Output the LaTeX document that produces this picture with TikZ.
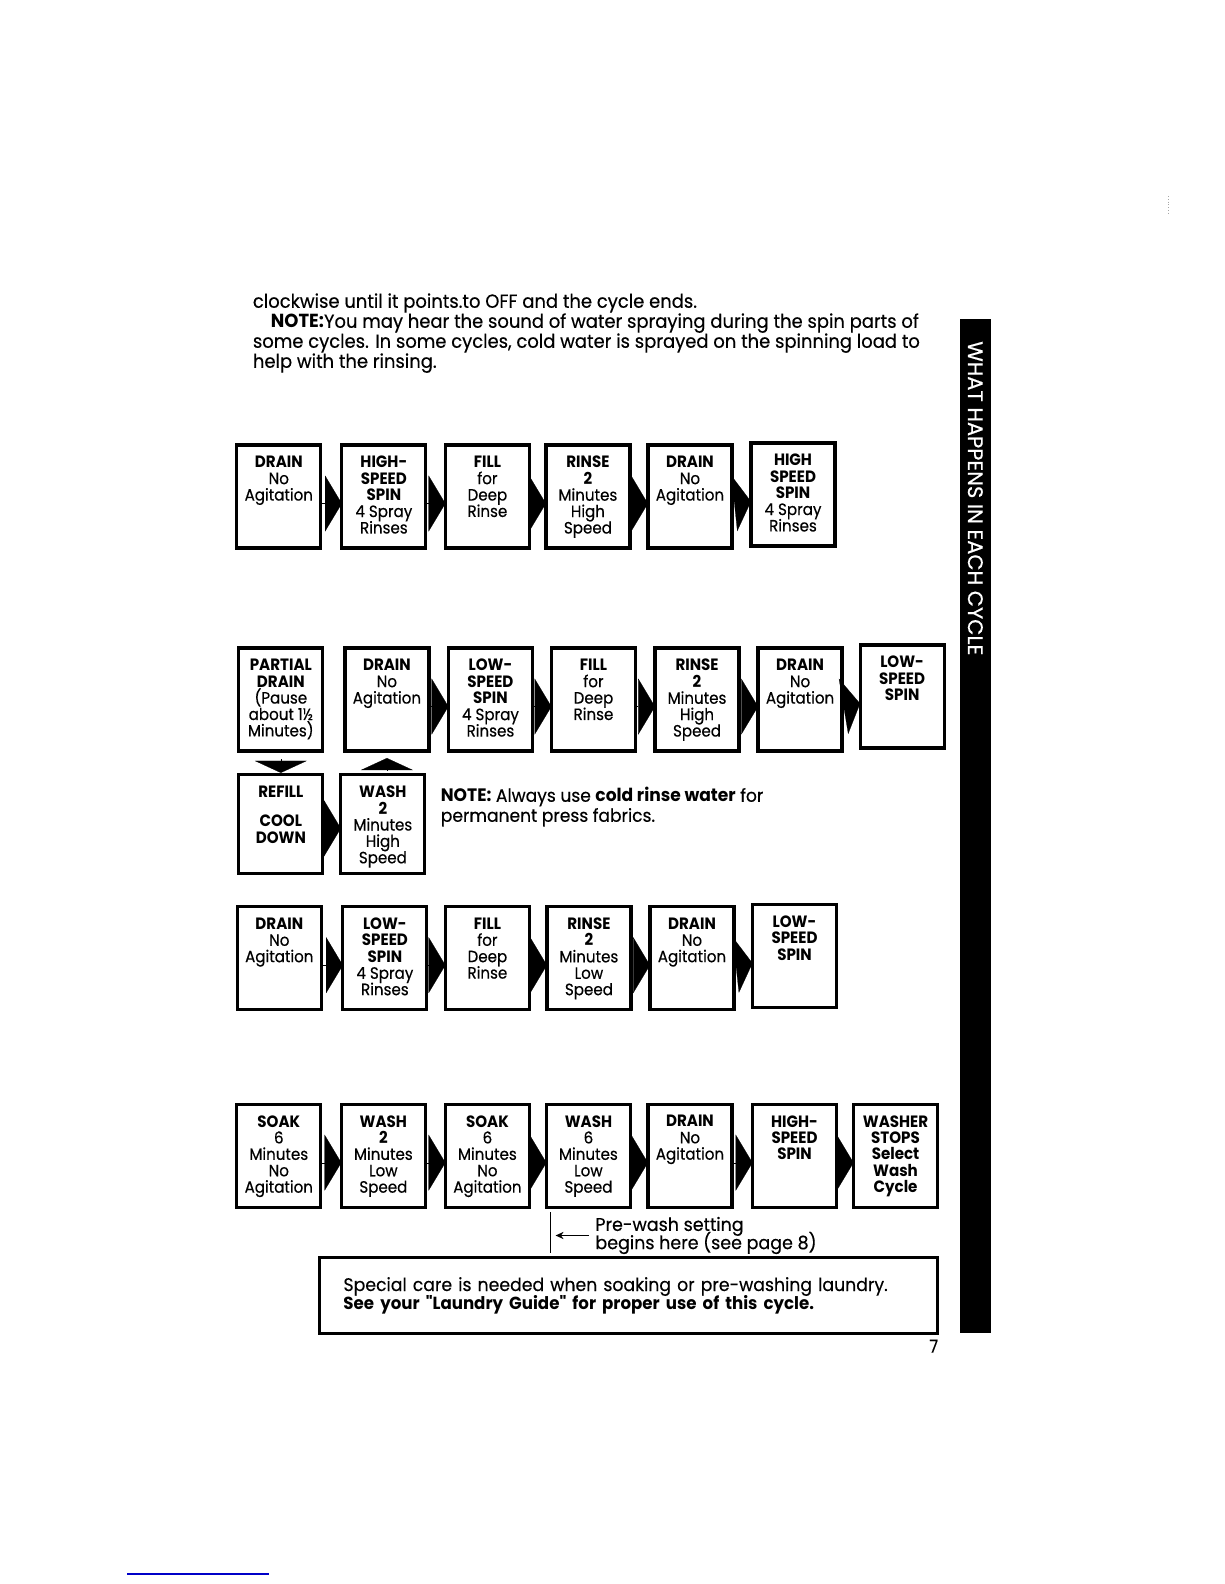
\documentclass[tikz,border=0pt]{standalone}
\usepackage{fontspec}
\setmainfont{Poppins}[FakeStretch=0.88, UprightFeatures={FakeBold=0.4}]
\newfontfamily\bodyfont{Poppins}[FakeStretch=0.95, UprightFeatures={FakeBold=0.4}]
\newfontfamily\stepfont{Poppins}[FakeStretch=0.92, UprightFeatures={FakeBold=0.4}]
\newfontfamily\tabfont{Poppins}[FakeBold=0.5]
\usetikzlibrary{arrows.meta}
\definecolor{ruleblue}{RGB}{0,0,200}
\lineskiplimit=-100pt
\normallineskiplimit=-100pt
\newcommand{\steptext}[2][51.5bp]{\parbox[c][#1][t]{42bp}{\centering
		\stepfont\fontsize{8.2bp}{8.2bp}\selectfont\vspace*{5.6bp}#2}}
\tikzset{
	stepbox/.style = {draw=black, line width=1.6bp, fill=white,
		inner sep=0pt, outer sep=0pt},% one step of a cycle
	nextstep/.style = {-{Triangle[length=8.4bp, width=28bp]},
		line width=0.1pt},% arrow to the next step
	turnstep/.style = {-{Triangle[length=6bp, width=26bp]},
		line width=0.1pt},% arrow up or down
	bodytext/.style = {align=left, inner sep=0pt,
		font=\bodyfont\fontsize{9.45bp}{10bp}\selectfont},
	carebox/.style = {draw=black, line width=1.6bp, inner xsep=12.1bp,
		inner ysep=0pt, text width=284.8bp, minimum height=37.9bp, align=left,
		font=\bodyfont\fontsize{9.1bp}{9.2bp}\selectfont},
	sidebar/.style = {fill=black, inner sep=0pt, minimum width=15.7bp,
		minimum height=507bp},
	sidetext/.style = {white, inner sep=0pt, font=\tabfont\fontsize{10.5bp}{10bp}\selectfont}
}
\begin{document}
\begin{tikzpicture}[x=0.505bp, y=-0.505bp]
	\useasboundingbox (0,0) rectangle (1212,1568);
	
	% text above the cycles
	\node[bodytext, anchor=north west] (intro) at (250,290)
	{clockwise until it points.to OFF and the cycle ends.\\
		\hspace*{9bp}\textbf{NOTE:}You may hear the sound of water spraying during the spin parts of\\
		some cycles. In some cycles, cold water is sprayed on the spinning load to\\
		help with the rinsing.};
	
	% first cycle
	\node[stepbox] (a1) at (276,491.5) {\steptext{\textbf{DRAIN}\\No\\Agitation}};
	\node[stepbox] (a2) at (380,491.5) {\steptext{\textbf{HIGH-\\SPEED\\SPIN}\\4 Spray\\Rinses}};
	\node[stepbox] (a3) at (482.5,491.5) {\steptext{\textbf{FILL}\\for\\Deep\\Rinse}};
	\node[stepbox] (a4) at (582,491.5) {\steptext{\textbf{RINSE\\2}\\Minutes\\High\\Speed}};
	\node[stepbox] (a5) at (683,491.5) {\steptext{\textbf{DRAIN}\\No\\Agitation}};
	\node[stepbox] (a6) at (785,489.5) {\steptext{\textbf{HIGH\\SPEED\\SPIN}\\4 Spray\\Rinses}};
	\draw[nextstep] ([yshift=-3.5bp]a1.east) -- ([yshift=-3.5bp]a2.west);
	\draw[nextstep] ([yshift=-3.5bp]a2.east) -- ([yshift=-3.5bp]a3.west);
	\draw[nextstep] ([yshift=-3.5bp]a3.east) -- ([yshift=-3.5bp]a4.west);
	\draw[nextstep] ([yshift=-3.5bp]a4.east) -- ([yshift=-3.5bp]a5.west);
	\draw[nextstep] ([yshift=-3.5bp]a5.east) -- ([yshift=-3.5bp]a6.west);
	
	% second cycle
	\node[stepbox] (b1) at (278,692.5) {\steptext{\textbf{PARTIAL\\DRAIN}\\(Pause\\about 1½\\Minutes)}};
	\node[stepbox] (b2) at (383,692.5) {\steptext{\textbf{DRAIN}\\No\\Agitation}};
	\node[stepbox] (b3) at (485.5,692.5) {\steptext{\textbf{LOW-\\SPEED\\SPIN}\\4 Spray\\Rinses}};
	\node[stepbox] (b4) at (587.5,692.5) {\steptext{\textbf{FILL}\\for\\Deep\\Rinse}};
	\node[stepbox] (b5) at (690,692.5) {\steptext{\textbf{RINSE\\2}\\Minutes\\High\\Speed}};
	\node[stepbox] (b6) at (792,692.5) {\steptext{\textbf{DRAIN}\\No\\Agitation}};
	\node[stepbox] (b7) at (893,689.5) {\steptext{\textbf{LOW-\\SPEED\\SPIN}}};
	\node[stepbox] (c1) at (278,816) {\steptext[49.5bp]{\textbf{REFILL}\\[6.5bp]\textbf{COOL\\DOWN}}};
	\node[stepbox] (c2) at (379,816) {\steptext[49.5bp]{\textbf{WASH\\2}\\Minutes\\High\\Speed}};
	\draw[turnstep, shorten <=4bp, shorten >=1bp] (b1.south) -- (c1.north);
	\draw[nextstep] ([yshift=-2bp]c1.east) -- ([yshift=-2bp]c2.west);
	\draw[turnstep, shorten <=2bp, shorten >=3.5bp] (b2.south |- c2.north) -- (b2.south);
	\draw[nextstep] ([yshift=-3.5bp]b2.east) -- ([yshift=-3.5bp]b3.west);
	\draw[nextstep] ([yshift=-3.5bp]b3.east) -- ([yshift=-3.5bp]b4.west);
	\draw[nextstep] ([yshift=-3.5bp]b4.east) -- ([yshift=-3.5bp]b5.west);
	\draw[nextstep] ([yshift=-3.5bp]b5.east) -- ([yshift=-3.5bp]b6.west);
	\draw[nextstep] ([yshift=-3.5bp]b6.east) -- ([yshift=-3.5bp]b7.west);
	\node[bodytext, anchor=north west, font=\bodyfont\fontsize{9bp}{10bp}\selectfont] (note) at (436,779)
	{\textbf{NOTE:} Always use \textbf{cold rinse water} for\\
		permanent press fabrics.};
	
	% third cycle
	\node[stepbox] (d1) at (276.5,948.5) {\steptext{\textbf{DRAIN}\\No\\Agitation}};
	\node[stepbox] (d2) at (381,948.5) {\steptext{\textbf{LOW-\\SPEED\\SPIN}\\4 Spray\\Rinses}};
	\node[stepbox] (d3) at (482.5,948.5) {\steptext{\textbf{FILL}\\for\\Deep\\Rinse}};
	\node[stepbox] (d4) at (583,948.5) {\steptext{\textbf{RINSE\\2}\\Minutes\\Low\\Speed}};
	\node[stepbox] (d5) at (685,948.5) {\steptext{\textbf{DRAIN}\\No\\Agitation}};
	\node[stepbox] (d6) at (786.5,946.5) {\steptext{\textbf{LOW-\\SPEED\\SPIN}}};
	\draw[nextstep] ([yshift=-3.5bp]d1.east) -- ([yshift=-3.5bp]d2.west);
	\draw[nextstep] ([yshift=-3.5bp]d2.east) -- ([yshift=-3.5bp]d3.west);
	\draw[nextstep] ([yshift=-3.5bp]d3.east) -- ([yshift=-3.5bp]d4.west);
	\draw[nextstep] ([yshift=-3.5bp]d4.east) -- ([yshift=-3.5bp]d5.west);
	\draw[nextstep] ([yshift=-3.5bp]d5.east) -- ([yshift=-3.5bp]d6.west);
	
	% fourth cycle
	\node[stepbox] (e1) at (276,1144) {\steptext{\textbf{SOAK}\\6\\Minutes\\No\\Agitation}};
	\node[stepbox] (e2) at (379.5,1144) {\steptext{\textbf{WASH\\2}\\Minutes\\Low\\Speed}};
	\node[stepbox] (e3) at (482.5,1144) {\steptext{\textbf{SOAK}\\6\\Minutes\\No\\Agitation}};
	\node[stepbox] (e4) at (582.5,1144) {\steptext{\textbf{WASH}\\6\\Minutes\\Low\\Speed}};
	\node[stepbox] (e5) at (683,1144) {\steptext{\textbf{DRAIN}\\No\\Agitation}};
	\node[stepbox] (e6) at (786.5,1144) {\steptext{\textbf{HIGH-\\SPEED\\SPIN}}};
	\node[stepbox] (e7) at (886.5,1144) {\steptext{\textbf{WASHER\\STOPS\\Select\\Wash\\Cycle}}};
	\draw[nextstep] ([yshift=-3.5bp]e1.east) -- ([yshift=-3.5bp]e2.west);
	\draw[nextstep] ([yshift=-3.5bp]e2.east) -- ([yshift=-3.5bp]e3.west);
	\draw[nextstep] ([yshift=-3.5bp]e3.east) -- ([yshift=-3.5bp]e4.west);
	\draw[nextstep] ([yshift=-3.5bp]e4.east) -- ([yshift=-3.5bp]e5.west);
	\draw[nextstep] ([yshift=-3.5bp]e5.east) -- ([yshift=-3.5bp]e6.west);
	\draw[nextstep] ([yshift=-3.5bp]e6.east) -- ([yshift=-3.5bp]e7.west);
	
	% pre-wash mark
	\coordinate (pretop) at (545,1200);
	\coordinate (prebot) at (545,1240);
	\draw[line width=0.9bp] (pretop) -- (prebot);
	\node[bodytext, anchor=west, font=\bodyfont\fontsize{9.2bp}{9.1bp}\selectfont] (prewash) at (589,1223)
	{Pre-wash setting\\begins here (see page 8)};
	\draw[-{Stealth[length=4bp, width=3.6bp]}, line width=0.8bp, shorten <=3bp, shorten >=2.5bp]
	(prewash.west) -- (prewash.west -| pretop);
	
	\node[carebox] (care) at (622,1282.5)
	{Special care is needed when soaking or pre-washing laundry.\\
		{\fontsize{8.75bp}{9.2bp}\selectfont\textbf{See your "Laundry Guide" for proper use of this cycle.}}};
	
	% side tab and page
	\node[sidebar] (side) at (965.5,818) {};
	\node[sidetext, anchor=west, rotate=-90] (tab) at ([yshift=-11bp]side.north)
	{WHAT HAPPENS IN EACH CYCLE};
	\node[anchor=base east, inner sep=0pt, font=\fontsize{9bp}{10bp}\selectfont] (page) at (929,1339) {7};
	\draw[ruleblue, line width=0.8bp] (126,1558) -- (266,1558);
	\draw[black!35, densely dotted, line width=0.4bp] (1157,194) -- (1157,212);
\end{tikzpicture}
\end{document}
